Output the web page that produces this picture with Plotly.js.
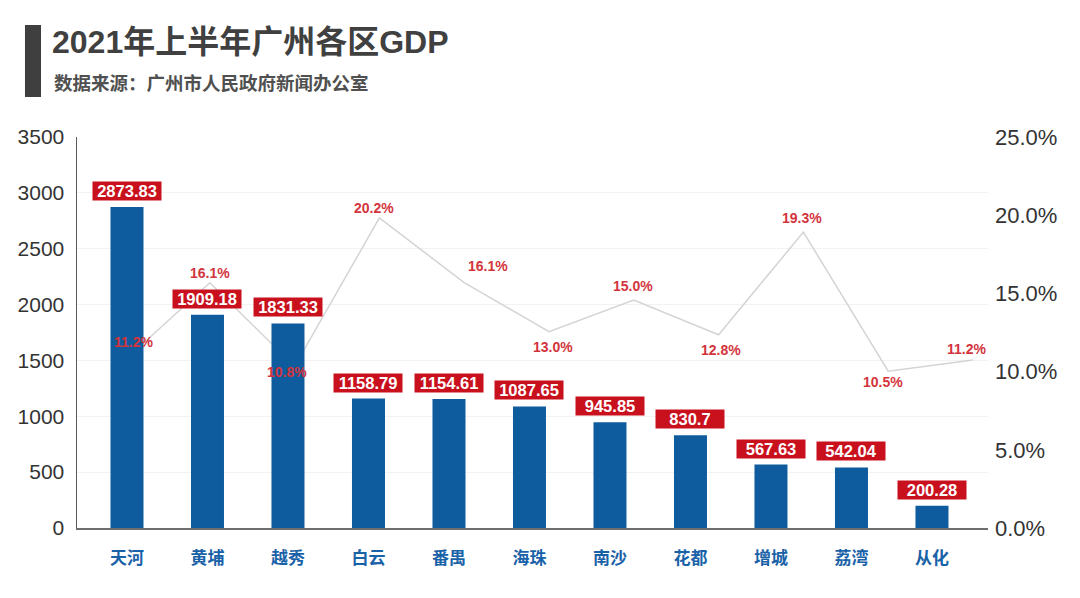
<!DOCTYPE html>
<html>
<head>
<meta charset="utf-8">
<script src="https://cdn.plot.ly/plotly-3.0.1.min.js"></script>
<style>html,body{margin:0;padding:0;background:#fff;}#chart{width:1080px;height:598px;}</style>
</head>
<body>
<div id="chart"></div>
<script>
// ---- data ----
var districts = ["天河","黄埔","越秀","白云","番禺","海珠","南沙","花都","增城","荔湾","从化"];
var gdp = [2873.83, 1909.18, 1831.33, 1158.79, 1154.61, 1087.65, 945.85, 830.7, 567.63, 542.04, 200.28];
var gdpLabels = ["2873.83","1909.18","1831.33","1158.79","1154.61","1087.65","945.85","830.7","567.63","542.04","200.28"];
var growth = [11.2, 16.1, 10.8, 20.2, 16.1, 13.0, 15.0, 12.8, 19.3, 10.5, 11.2];
var titleText = "2021年上半年广州各区GDP";
var sourceText = "数据来源：广州市人民政府新闻办公室";

// ---- style (label offsets in px) ----
var pctShiftX = [8, 0, -8, -5, 24, 4, -1, 2, -1, -5, -6];
var pctShiftY = [18, 10, -6, 10, 17, -15, 14, -15, 14, -11, 11];

var FONT = "Liberation Sans, Arial, Noto Sans CJK SC, sans-serif";
var CJK = "Noto Sans CJK SC, Liberation Sans, sans-serif";

var traces = [
  {
    type: "scatter", mode: "lines",
    x: districts, y: growth,
    xaxis: "x", yaxis: "y",
    line: {color: "#d4d4d4", width: 1.5},
    hoverinfo: "skip", showlegend: false
  },
  {
    type: "bar",
    x: districts, y: gdp,
    xaxis: "x2", yaxis: "y2",
    width: 0.41,
    marker: {color: "#0e5c9e", line: {width: 0}},
    hoverinfo: "skip", showlegend: false
  }
];

var annotations = [];
for (var i = 0; i < districts.length; i++) {
  annotations.push({
    xref: "x2", yref: "y2", x: districts[i], y: gdp[i],
    text: gdpLabels[i], showarrow: false,
    yanchor: "bottom", yshift: 6,
    bgcolor: "#c9111e", borderpad: 1, height: 16, width: 66,
    font: {family: FONT, size: 16.5, color: "#ffffff", weight: "bold"}
  });
  annotations.push({
    xref: "x", yref: "y", x: districts[i], y: growth[i],
    text: growth[i].toFixed(1) + "%", showarrow: false,
    xshift: pctShiftX[i], yshift: pctShiftY[i],
    font: {family: FONT, size: 14, color: "#d3343d", weight: "bold"}
  });
}
annotations.push({
  xref: "paper", yref: "paper", x: -0.0274, y: 1.138,
  xanchor: "left", yanchor: "middle",
  text: sourceText, showarrow: false,
  font: {family: "Liberation Sans, Noto Sans CJK SC, sans-serif", size: 18.5, color: "#505050", weight: "bold"}
});

var layout = {
  width: 1080, height: 598, autosize: false,
  paper_bgcolor: "#ffffff", plot_bgcolor: "rgba(0,0,0,0)",
  margin: {l: 77, r: 92, t: 137, b: 70, pad: 0},
  showlegend: false,
  title: {
    text: titleText,
    x: 52 / 1080, xanchor: "left", xref: "container",
    y: 1 - 42 / 598, yanchor: "middle", yref: "container",
    font: {family: "Liberation Sans, Noto Sans CJK SC, sans-serif", size: 32, color: "#404040", weight: "bold"}
  },
  xaxis: {
    type: "category", range: [-0.566, 10.177],
    showticklabels: false, showline: false, showgrid: false, zeroline: false, ticks: ""
  },
  yaxis: {
    range: [0.57, 25.32],
    showticklabels: false, showline: false, showgrid: false, zeroline: false, ticks: ""
  },
  xaxis2: {
    type: "category", overlaying: "x", anchor: "y2", side: "bottom",
    range: [-0.621, 10.696],
    showline: true, linecolor: "#6e6e6e", linewidth: 1.5,
    showgrid: false, zeroline: false, ticks: "",
    tickfont: {family: CJK, size: 17, color: "#1a62a8", weight: "bold"},
    ticklabelstandoff: 14
  },
  yaxis2: {
    overlaying: "y", anchor: "x2", side: "left",
    range: [0, 3500], dtick: 500, tick0: 0,
    showline: true, linecolor: "#5a5a5a", linewidth: 1.5,
    showgrid: true, gridcolor: "#f2f2f2", gridwidth: 1,
    zeroline: false, ticks: "",
    tickfont: {family: FONT, size: 21, color: "#333333"},
    ticklabelstandoff: 7
  },
  yaxis3: {
    overlaying: "y", anchor: "x2", side: "right",
    range: [0, 25], dtick: 5, tick0: 0,
    tickformat: ".1f", ticksuffix: "%",
    showline: false, showgrid: false, zeroline: false, ticks: "",
    tickfont: {family: FONT, size: 22, color: "#333333"},
    ticklabelstandoff: 6
  },
  shapes: [{
    type: "rect", xref: "paper", yref: "paper",
    x0: -0.0571, x1: -0.0395, y0: 1.1023, y1: 1.2864,
    fillcolor: "#3f3f3f", line: {width: 0}, layer: "above"
  }],
  annotations: annotations
};

// invisible point on y3 so the right axis is drawn
traces.push({
  type: "scatter", mode: "markers", x: [districts[0]], y: [0],
  xaxis: "x2", yaxis: "y3", marker: {opacity: 0}, hoverinfo: "skip", showlegend: false
});

Plotly.newPlot("chart", traces, layout, {displayModeBar: false, staticPlot: true});
</script>
</body>
</html>
